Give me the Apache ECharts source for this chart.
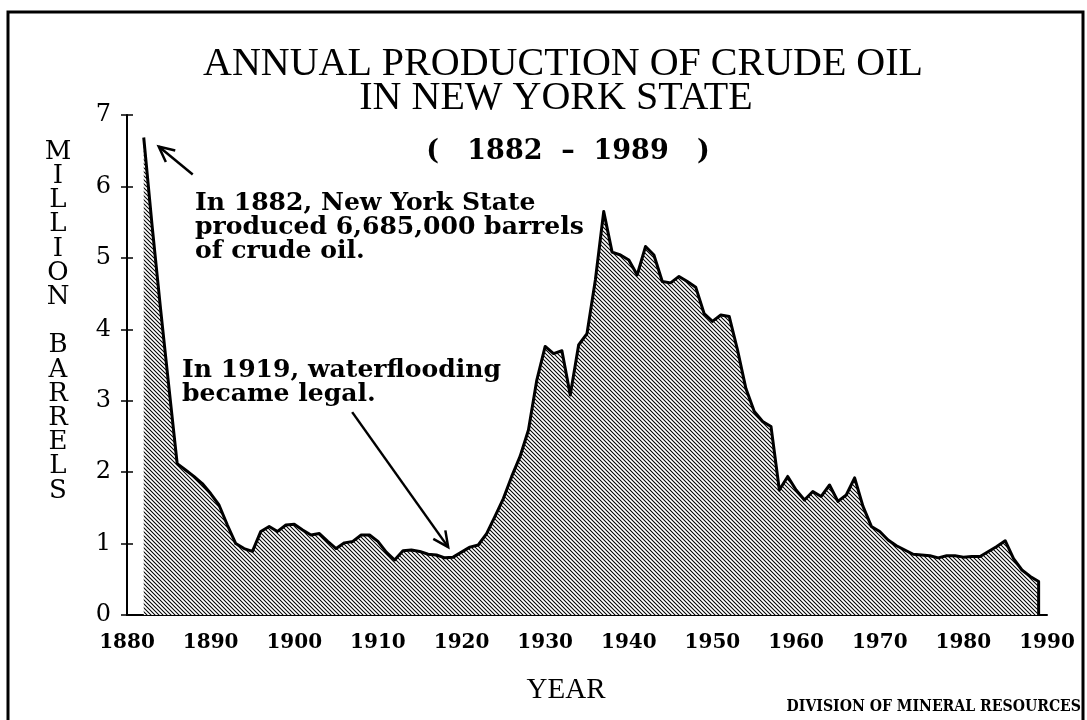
<!DOCTYPE html>
<html>
<head>
<meta charset="utf-8">
<title>Annual Production of Crude Oil in New York State</title>
<script src="https://cdn.jsdelivr.net/npm/echarts@6/dist/echarts.min.js"></script>
<style>
  html, body { margin: 0; padding: 0; background: #fff; }
  #chart { width: 1087px; height: 720px; }
</style>
</head>
<body>
<div id="chart"></div>
<script>
// Crude oil production in New York State, million barrels per year
const years = [];
for (let y = 1882; y <= 1989; y++) years.push(y);

const production = [
  6.685, 5.45, 4.30, 3.20, 2.12, 2.03, 1.94, 1.84, 1.70, 1.54,   // 1882-1891
  1.26, 1.00, 0.93, 0.89, 1.17, 1.24, 1.17, 1.26, 1.27, 1.19,    // 1892-1901
  1.12, 1.14, 1.03, 0.93, 1.01, 1.03, 1.12, 1.12, 1.03, 0.88,    // 1902-1911
  0.77, 0.90, 0.91, 0.89, 0.85, 0.84, 0.80, 0.81, 0.88, 0.95,    // 1912-1921
  0.98, 1.14, 1.38, 1.63, 1.94, 2.22, 2.59, 3.29, 3.76, 3.66,    // 1922-1931
  3.70, 3.08, 3.78, 3.94, 4.69, 5.65, 5.08, 5.04, 4.97, 4.76,    // 1932-1941
  5.16, 5.04, 4.67, 4.65, 4.74, 4.67, 4.59, 4.22, 4.11, 4.20,    // 1942-1951
  4.18, 3.71, 3.17, 2.85, 2.71, 2.64, 1.75, 1.94, 1.75, 1.61,    // 1952-1961
  1.73, 1.66, 1.82, 1.59, 1.68, 1.92, 1.52, 1.24, 1.17, 1.05,    // 1962-1971
  0.97, 0.91, 0.85, 0.84, 0.83, 0.80, 0.83, 0.83, 0.81, 0.82,    // 1972-1981
  0.82, 0.89, 0.96, 1.04, 0.79, 0.63, 0.54, 0.47                 // 1982-1989
];

const xTicks = { min: 1880, max: 1990, step: 10 };
const yTicks = { min: 0, max: 7, step: 1 };

const titleLines = ['ANNUAL PRODUCTION OF CRUDE OIL', 'IN NEW YORK STATE'];
const subtitle = '(   1882  \u2013  1989   )';
const yName = 'MILLION BARRELS';
const xName = 'YEAR';
const credit = 'DIVISION OF MINERAL RESOURCES';
const note1882 = 'In 1882, New York State\nproduced 6,685,000 barrels\nof crude oil.';
const note1919 = 'In 1919, waterflooding\nbecame legal.';
const noteYears = { peak: 1882, flood: 1919 };

// Diagonal hatching used to fill the area under the curve
function hatchTile() {
  const s = 4;
  const c = document.createElement('canvas');
  c.width = s; c.height = s;
  const g = c.getContext('2d');
  g.fillStyle = '#ffffff';
  g.fillRect(0, 0, s, s);
  g.strokeStyle = '#000000';
  g.lineWidth = 1.05;
  g.beginPath();
  g.moveTo(-1, -1); g.lineTo(s + 1, s + 1);
  g.moveTo(s - 1, -1); g.lineTo(s + 1, 1);
  g.moveTo(-1, s - 1); g.lineTo(1, s + 1);
  g.stroke();
  return c;
}

const points = years.map((y, i) => [y, production[i]]);
// close the outline down to the axis after the final year
points.push([years[years.length - 1], 0]);

const serif = "'Liberation Serif', 'DejaVu Serif', serif";
const slab = "'DejaVu Serif', serif";

const chart = echarts.init(document.getElementById('chart'), null, { renderer: 'canvas' });

const option = {
  backgroundColor: '#ffffff',
  animation: false,
  grid: { left: 127, right: 40, top: 115, bottom: 105 },
  xAxis: {
    type: 'value',
    min: xTicks.min, max: xTicks.max, interval: xTicks.step,
    axisLine: { show: true, lineStyle: { color: '#000', width: 2 } },
    axisTick: { show: false },
    splitLine: { show: false },
    axisLabel: {
      color: '#000', fontFamily: slab, fontWeight: 'bold', fontSize: 20,
      margin: 18, formatter: v => String(v)
    }
  },
  yAxis: [
    {
      type: 'value',
      min: yTicks.min, max: yTicks.max, interval: yTicks.step,
      axisLine: { show: true, lineStyle: { color: '#000', width: 2 } },
      axisTick: { show: true, inside: false, length: 6, lineStyle: { color: '#000', width: 1.5 } },
      splitLine: { show: false },
      axisLabel: { color: '#000', fontFamily: slab, fontSize: 24, margin: 16 }
    },
    {
      type: 'value',
      min: yTicks.min, max: yTicks.max, interval: yTicks.step,
      position: 'left', offset: 0,
      axisLine: { show: false },
      axisTick: { show: true, inside: true, length: 6, lineStyle: { color: '#000', width: 1.5 } },
      splitLine: { show: false },
      axisLabel: { show: false }
    }
  ],
  series: [{
    type: 'line',
    data: points,
    showSymbol: false,
    symbol: 'none',
    lineStyle: { color: '#000', width: 3, join: 'round' },
    areaStyle: { color: { image: hatchTile(), repeat: 'repeat' }, opacity: 1 },
    z: 2
  }],
  graphic: [
    // page frame
    { type: 'rect', shape: { x: 8, y: 12, width: 1075, height: 730 },
      style: { fill: null, stroke: '#000', lineWidth: 3 }, silent: true },
    { type: 'text', x: 563, y: 64,
      style: { text: titleLines[0], font: '40px ' + serif, fill: '#000', align: 'center', verticalAlign: 'middle' } },
    { type: 'text', x: 556, y: 98,
      style: { text: titleLines[1], font: '40px ' + serif, fill: '#000', align: 'center', verticalAlign: 'middle' } },
    { type: 'text', x: 568, y: 152,
      style: { text: subtitle, font: 'bold 27px ' + slab, fill: '#000', align: 'center', verticalAlign: 'middle' } },
    { type: 'text', x: 58, y: 140,
      style: { text: yName.split('').join('\n'), font: '26px ' + slab, lineHeight: 24.2,
               fill: '#000', align: 'center', verticalAlign: 'top' } },
    { type: 'text', x: 566, y: 690,
      style: { text: xName, font: '29px ' + serif, fill: '#000', align: 'center', verticalAlign: 'middle' } },
    { type: 'text', x: 1081, y: 707, scaleX: 0.88,
      style: { text: credit, font: 'bold 16px ' + slab, fill: '#000', align: 'right', verticalAlign: 'middle' } },
    { type: 'text', x: 195, y: 192, scaleX: 1.045,
      style: { text: note1882, font: 'bold 24px ' + slab, lineHeight: 24, fill: '#000', align: 'left', verticalAlign: 'top' } },
    { type: 'text', x: 182, y: 359, scaleX: 1.045,
      style: { text: note1919, font: 'bold 24px ' + slab, lineHeight: 24, fill: '#000', align: 'left', verticalAlign: 'top' } }
  ]
};

chart.setOption(option);

// Annotation arrows anchored to the data points they describe
function arrow(tail, tip) {
  const dx = tip[0] - tail[0], dy = tip[1] - tail[1];
  const a = Math.atan2(dy, dx);
  const len = 17, spread = 0.45;
  const l1 = [tip[0] - len * Math.cos(a - spread), tip[1] - len * Math.sin(a - spread)];
  const l2 = [tip[0] - len * Math.cos(a + spread), tip[1] - len * Math.sin(a + spread)];
  return [
    { type: 'polyline', shape: { points: [tail, tip] }, style: { stroke: '#000', lineWidth: 2.5, fill: null }, z: 10 },
    { type: 'polyline', shape: { points: [l1, tip, l2] }, style: { stroke: '#000', lineWidth: 2.5, fill: null, lineJoin: 'miter' }, z: 10 }
  ];
}

const pPeak = chart.convertToPixel({ gridIndex: 0 }, [noteYears.peak, production[0]]);
const pFlood = chart.convertToPixel({ gridIndex: 0 }, [noteYears.flood, production[years.indexOf(noteYears.flood)]]);

const tip1 = [pPeak[0] + 15, pPeak[1] + 9];
const tail1 = [tip1[0] + 34, tip1[1] + 28];
const tip2 = [pFlood[0] - 5, pFlood[1] - 10];
const tail2 = [tip2[0] - 96, tip2[1] - 135];

chart.setOption({
  graphic: option.graphic.concat(arrow(tail1, tip1), arrow(tail2, tip2))
});
</script>
</body>
</html>
